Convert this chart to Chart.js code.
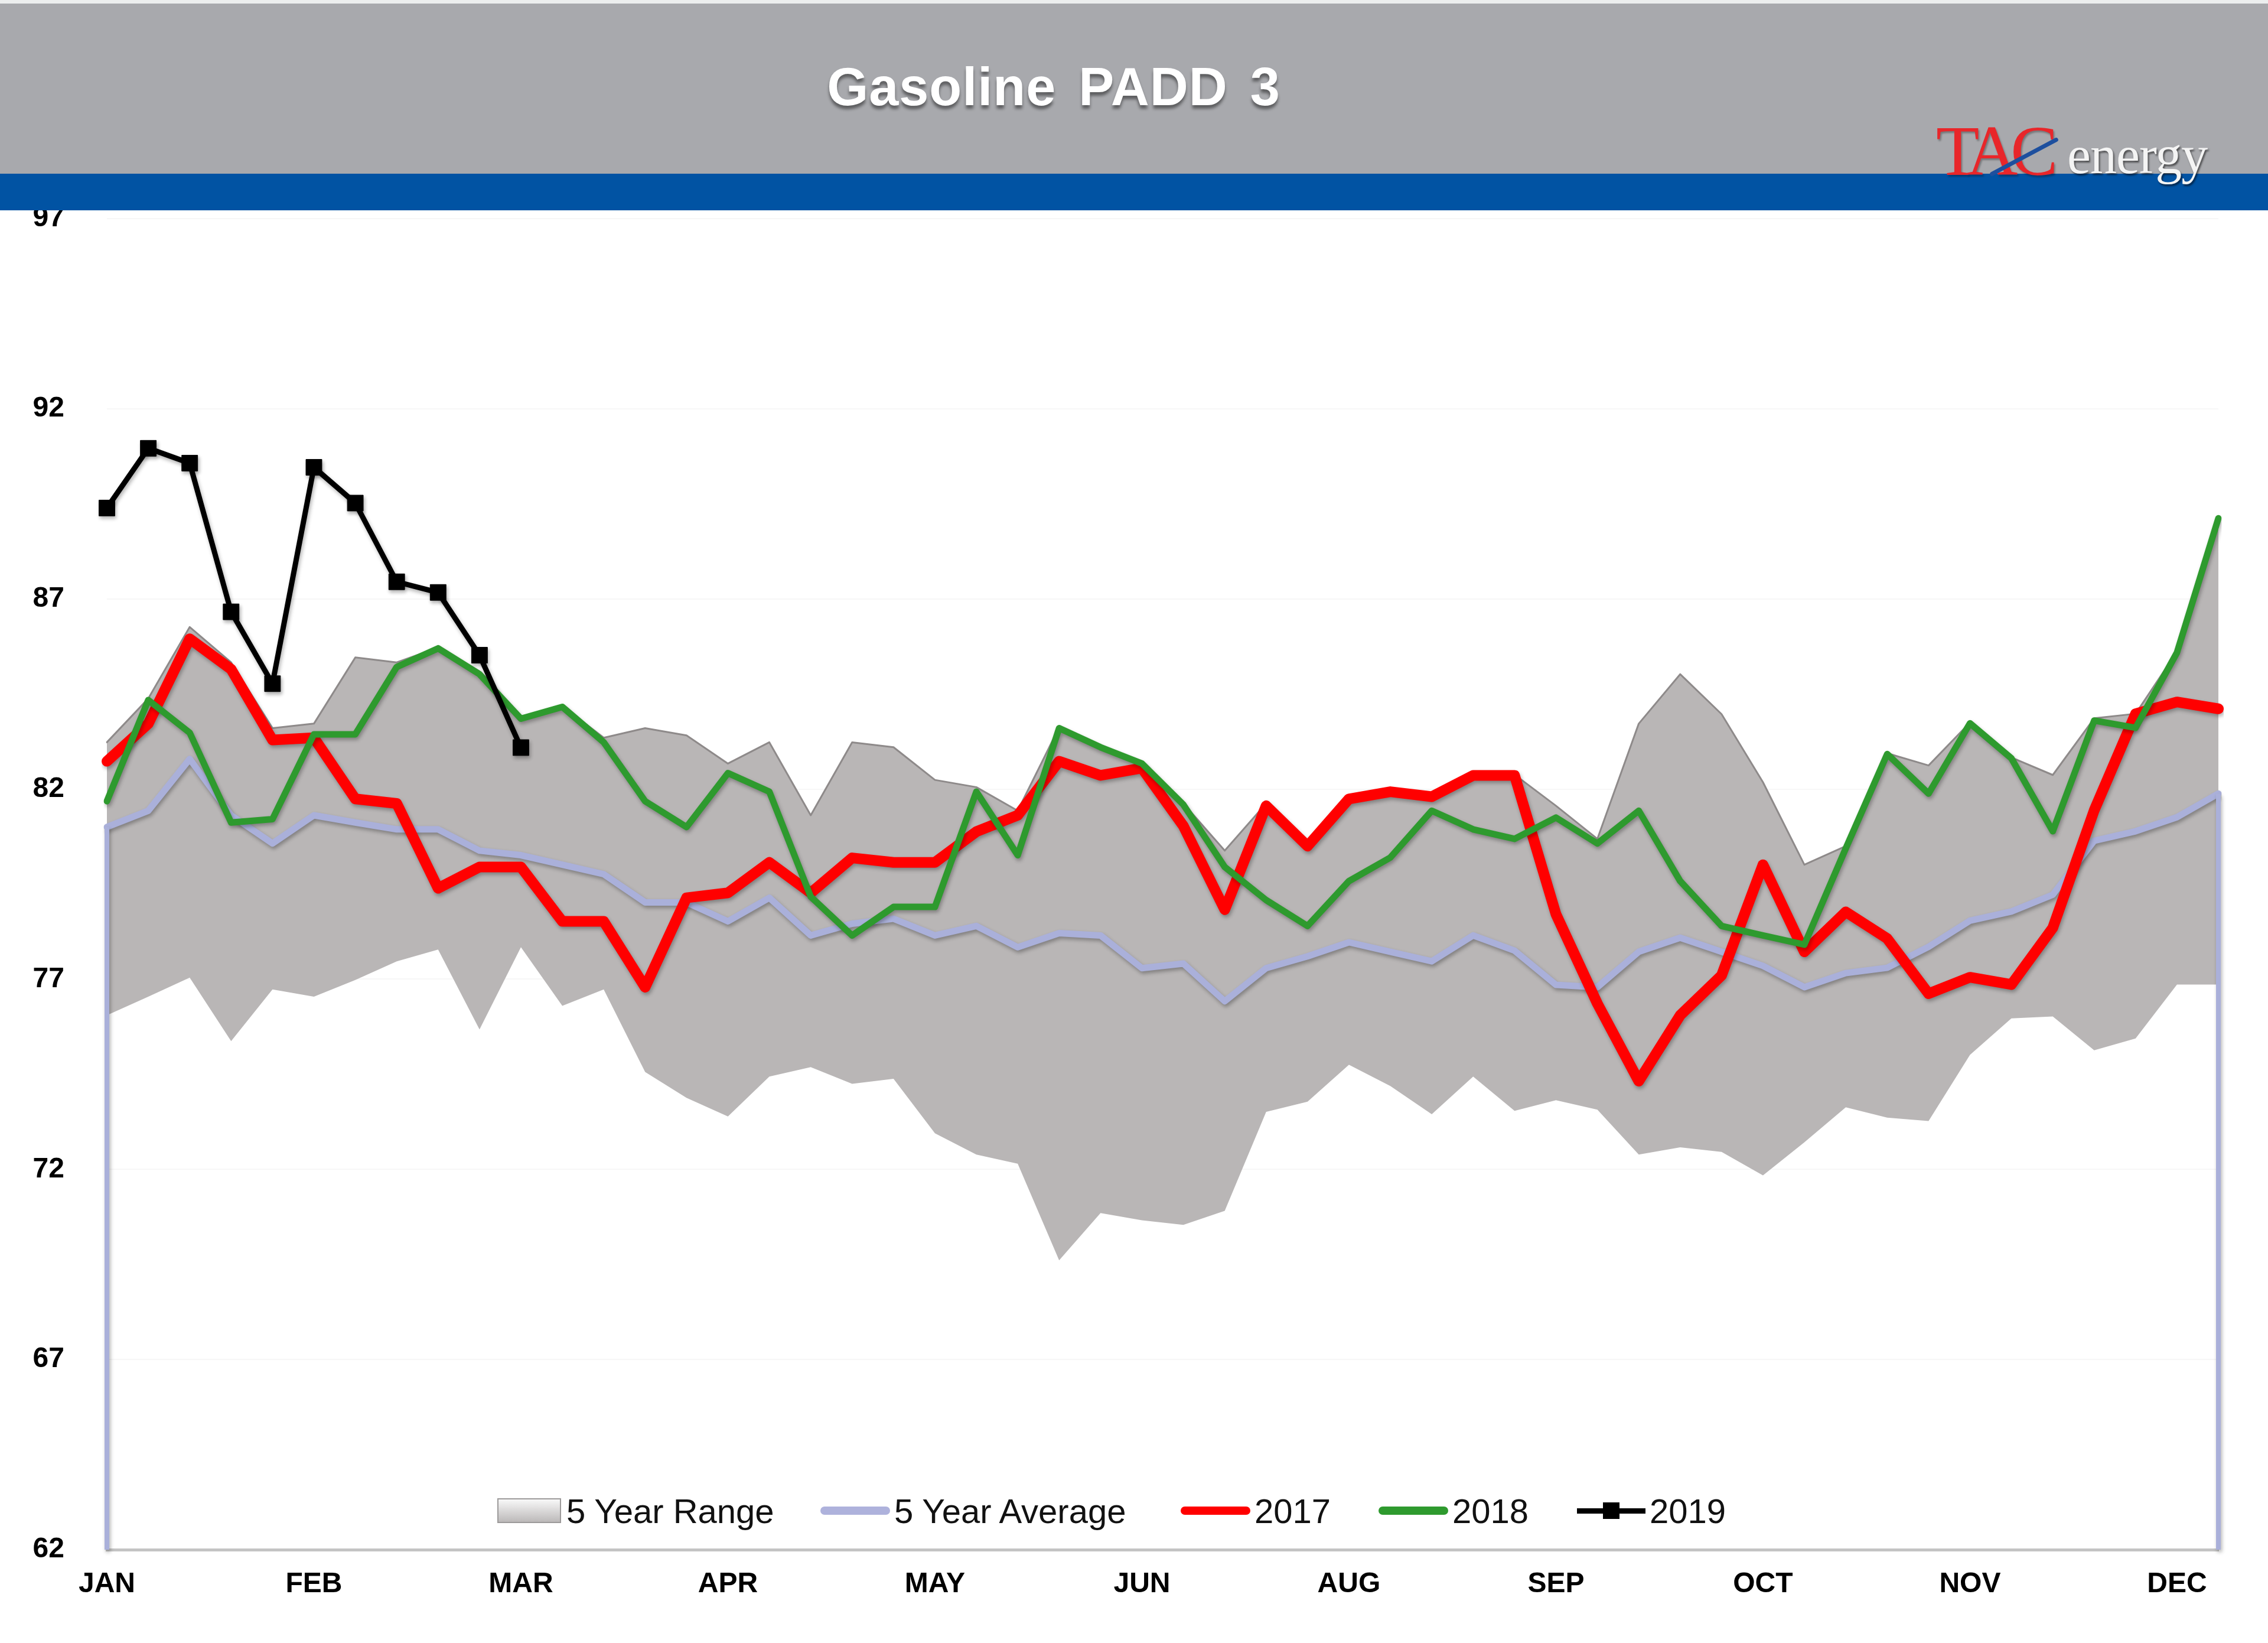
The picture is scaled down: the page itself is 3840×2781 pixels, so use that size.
<!DOCTYPE html>
<html>
<head>
<meta charset="utf-8">
<title>Gasoline PADD 3</title>
<script src="https://cdn.jsdelivr.net/npm/chart.js@4.4.1/dist/chart.umd.min.js"></script>
<style>
    html, body { margin: 0; padding: 0; background: #fff; }
    body { width: 3840px; height: 2781px; position: relative; overflow: hidden; font-family: "Liberation Sans", Arial, sans-serif; }
    #chart { position: absolute; left: 0; top: 0; }
    .header { position: absolute; left: 0; top: 0; width: 3840px; height: 294px; background: #a8a9ad; border-top: 6px solid #eceeee; box-sizing: border-box; }
    .band { position: absolute; left: 0; top: 294px; width: 3840px; height: 62px; background: #0153a3; }
    .title { position: absolute; top: 92px; left: 1284px; width: 1000px; text-align: center; color: #fff; font-weight: bold; font-size: 90px; line-height: 110px; letter-spacing: 1px; word-spacing: 12px; text-shadow: 0 6px 5px rgba(0,0,0,0.45); }
    .logo-tac { position: absolute; left: 3278px; top: 196px; font-family: "Liberation Serif", serif; font-size: 120px; line-height: 120px; color: #e8262a; letter-spacing: -12px; text-shadow: 2px 3px 3px rgba(0,0,0,0.3); }
    .logo-energy { position: absolute; left: 3500px; top: 218px; font-family: "Liberation Serif", serif; font-size: 90px; line-height: 90px; color: #f4f4f4; letter-spacing: -1px; text-shadow: 2px 3px 3px rgba(0,0,0,0.55); }
    .swoosh { position: absolute; left: 3362px; top: 262px; width: 130px; height: 7px; background: #1d4f9e; transform: rotate(-28deg); border-radius: 4px; }
    .item { position: absolute; top: 2522px; height: 70px; display: flex; align-items: center; font-size: 58px; color: #111; white-space: nowrap; }
    .sw-range { width: 108px; height: 42px; margin-right: 9px; box-sizing: border-box; border: 2px solid #9c9a9a; background: linear-gradient(#f8f8f8, #bcb9b9); }
    .sw-line { width: 118px; height: 14px; border-radius: 7px; margin-right: 7px; }
    .sw-2019 { width: 116px; height: 9px; margin-right: 7px; background: #000; position: relative; }
    .sw-2019::after { content: ""; position: absolute; left: 44px; top: -10px; width: 28px; height: 28px; background: #000; }
</style>
</head>
<body>
<canvas id="chart" width="3840" height="2781"></canvas>
<div class="header"></div>
<div class="band"></div>
<div class="title">Gasoline PADD 3</div>
<div class="logo-tac">TAC</div>
<div class="swoosh"></div>
<div class="logo-energy">energy</div>

<div class="item" style="left:842px"><span class="sw-range"></span>5 Year Range</div>
<div class="item" style="left:1389px"><span class="sw-line" style="background:#aeb2dc"></span>5 Year Average</div>
<div class="item" style="left:1999px"><span class="sw-line" style="background:#ff0000"></span>2017</div>
<div class="item" style="left:2334px"><span class="sw-line" style="background:#2e9a2e"></span>2018</div>
<div class="item" style="left:2670px"><span class="sw-2019"></span>2019</div>

<script>
// week labels, a month name every 5th week
const weeks = [
    'JAN', '', '', '', '', 'FEB', '', '', '', '', 'MAR', '', '', '', '', 'APR', '', '', '', '',
    'MAY', '', '', '', '', 'JUN', '', '', '', '', 'AUG', '', '', '', '', 'SEP', '', '', '', '',
    'OCT', '', '', '', '', 'NOV', '', '', '', '', 'DEC', ''
];

const rangeLow = [
    76.05, 76.54, 77.04, 75.37, 76.73, 76.54, 76.98, 77.47, 77.78, 75.68,
    77.84, 76.30, 76.73, 74.56, 73.88, 73.39, 74.44, 74.69, 74.25, 74.38,
    72.95, 72.39, 72.15, 69.61, 70.85, 70.66, 70.54, 70.91, 73.51, 73.78,
    74.75, 74.19, 73.45, 74.44, 73.54, 73.82, 73.57, 72.39, 72.58, 72.46,
    71.84, 72.71, 73.63, 73.36, 73.27, 75.01, 75.97, 76.02, 75.13, 75.44,
    76.86, 76.86
];

const rangeHigh = [
    83.23, 84.38, 86.26, 85.33, 83.60, 83.72, 85.46, 85.33, 85.72, 85.09,
    83.87, 84.18, 83.35, 83.60, 83.41, 82.67, 83.23, 81.31, 83.23, 83.10,
    82.24, 82.05, 81.43, 83.62, 83.12, 82.73, 81.62, 80.38, 81.62, 80.52,
    81.80, 81.95, 81.82, 82.38, 82.38, 81.56, 80.69, 83.72, 85.02, 83.97,
    82.18, 80.01, 80.50, 82.94, 82.62, 83.75, 82.83, 82.37, 83.86, 83.98,
    85.61, 89.12
];

const avg5 = [
    81.00, 81.43, 82.79, 81.31, 80.57, 81.31, 81.12, 80.94, 80.94, 80.38,
    80.26, 80.01, 79.76, 79.02, 79.02, 78.52, 79.14, 78.15, 78.46, 78.59,
    78.15, 78.40, 77.84, 78.21, 78.15, 77.29, 77.41, 76.42, 77.29, 77.60,
    77.97, 77.72, 77.47, 78.15, 77.75, 76.85, 76.79, 77.72, 78.09, 77.72,
    77.35, 76.79, 77.16, 77.30, 77.85, 78.54, 78.78, 79.22, 80.64, 80.89,
    81.26, 81.88
];

const y2017 = [
    82.73, 83.72, 85.95, 85.15, 83.29, 83.35, 81.74, 81.62, 79.39, 79.95,
    79.95, 78.52, 78.52, 76.79, 79.14, 79.27, 80.07, 79.27, 80.19, 80.07,
    80.07, 80.88, 81.31, 82.73, 82.36, 82.55, 81.03, 78.83, 81.56, 80.50,
    81.74, 81.93, 81.80, 82.36, 82.36, 78.71, 76.36, 74.32, 76.05, 77.10,
    80.01, 77.72, 78.77, 78.07, 76.62, 77.05, 76.86, 78.35, 81.44, 83.98,
    84.29, 84.11
];

const y2018 = [
    81.68, 84.34, 83.48, 81.12, 81.21, 83.44, 83.44, 85.21, 85.70, 85.02,
    83.85, 84.16, 83.23, 81.68, 81.00, 82.42, 81.93, 79.17, 78.15, 78.90,
    78.90, 81.93, 80.26, 83.60, 83.10, 82.67, 81.59, 79.95, 79.08, 78.40,
    79.58, 80.20, 81.43, 80.94, 80.69, 81.25, 80.57, 81.43, 79.58, 78.40,
    78.15, 77.91, 80.44, 82.92, 81.88, 83.73, 82.81, 80.89, 83.80, 83.61,
    85.59, 89.12
];

const y2019 = [89.39, 90.96, 90.57, 86.66, 84.77, 90.46, 89.52, 87.45, 87.17, 85.52, 83.09];

const AVG_COLOR = '#aab0da';
const tickFont = { family: 'Liberation Sans', size: 48, weight: 'bold' };

// Excel style soft drop shadow under the lines
const lineShadow = {
    id: 'lineShadow',
    beforeDatasetDraw(chart, args) {
        if (!chart.data.datasets[args.index].shadow) return;
        const c = chart.ctx;
        c.save();
        c.shadowColor = 'rgba(0,0,0,0.3)';
        c.shadowBlur = 6;
        c.shadowOffsetX = 2;
        c.shadowOffsetY = 4;
    },
    afterDatasetDraw(chart, args) {
        if (!chart.data.datasets[args.index].shadow) return;
        chart.ctx.restore();
    }
};

// the average series is drawn as an area outline, so it drops to the axis at both ends
const avgEdges = {
    id: 'avgEdges',
    afterDatasetDraw(chart, args) {
        if (chart.data.datasets[args.index].label !== '5 Year Average') return;
        const pts = args.meta.data;
        const c = chart.ctx;
        const bottom = chart.chartArea.bottom;
        c.save();
        c.strokeStyle = AVG_COLOR;
        c.lineWidth = 8;
        [pts[0], pts[pts.length - 1]].forEach(p => {
            c.beginPath();
            c.moveTo(p.x, p.y);
            c.lineTo(p.x, bottom);
            c.stroke();
        });
        c.restore();
    }
};

const ctx = document.getElementById('chart').getContext('2d');
new Chart(ctx, {
    type: 'line',
    data: {
        labels: weeks,
        datasets: [
            {
                label: '2019',
                data: y2019,
                borderColor: '#000',
                borderWidth: 9,
                pointStyle: 'rect',
                pointRadius: 19,
                pointBackgroundColor: '#000',
                pointBorderColor: '#000',
                pointBorderWidth: 1,
                shadow: true
            },
            {
                label: '2018',
                data: y2018,
                borderColor: '#2e9a2e',
                borderWidth: 11,
                shadow: true
            },
            {
                label: '2017',
                data: y2017,
                borderColor: '#ff0000',
                borderWidth: 18,
                shadow: true
            },
            {
                label: '5 Year Average',
                data: avg5,
                borderColor: AVG_COLOR,
                borderWidth: 11,
                shadow: true
            },
            {
                label: '5 Year Range',
                data: rangeHigh,
                borderColor: '#8e8a8a',
                borderWidth: 3,
                backgroundColor: '#b9b6b6',
                fill: '+1'
            },
            {
                label: 'range low',
                data: rangeLow,
                borderWidth: 0,
                borderColor: 'rgba(0,0,0,0)',
                fill: false
            }
        ]
    },
    options: {
        responsive: false,
        animation: false,
        devicePixelRatio: 1,
        layout: { padding: { top: 370, right: 84, bottom: 0, left: 0 } },
        elements: {
            line: { tension: 0, borderJoinStyle: 'round', borderCapStyle: 'round' },
            point: { radius: 0 }
        },
        plugins: {
            legend: { display: false },
            tooltip: { enabled: false }
        },
        scales: {
            x: {
                offset: false,
                grid: { display: false, drawTicks: false },
                border: { display: true, color: '#c4c4c4', width: 5 },
                ticks: {
                    autoSkip: false,
                    maxRotation: 0,
                    minRotation: 0,
                    padding: 30,
                    color: '#000',
                    font: tickFont
                },
                afterFit: s => { s.height = 158; }
            },
            y: {
                min: 62,
                max: 97,
                ticks: {
                    stepSize: 5,
                    padding: 72,
                    color: '#000',
                    font: tickFont
                },
                grid: { color: '#f7f7f7', lineWidth: 2, drawTicks: false },
                border: { display: false },
                afterFit: s => { s.width = 181; }
            }
        }
    },
    plugins: [avgEdges, lineShadow]
});
</script>
</body>
</html>
